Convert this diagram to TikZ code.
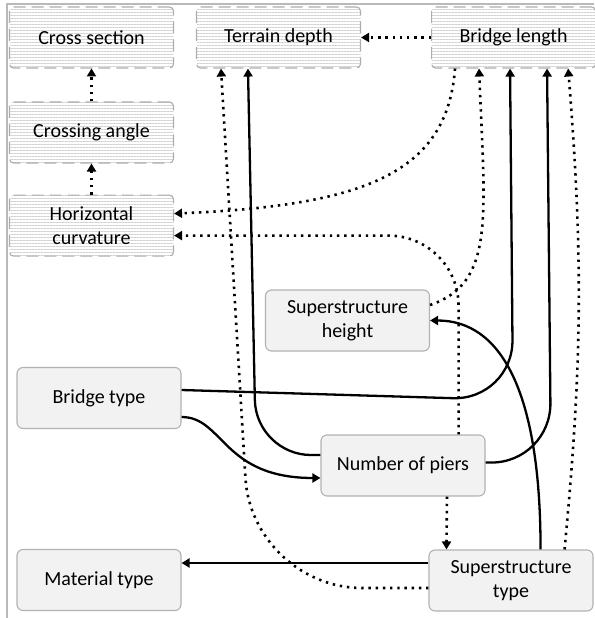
\documentclass[tikz,border=0pt]{standalone}
\usepackage{fontspec}
\setmainfont{Carlito}
\usetikzlibrary{arrows.meta,positioning,patterns.meta}

\begin{document}
\begin{tikzpicture}[%
        x=1pt, y=-1pt,
        every node/.style={rectangle, minimum width=164pt, minimum height=61pt, inner sep=2pt, align=center, font=\fontsize{20}{24}\selectfont},
        dbox/.style={draw=gray!65, line width=1.1pt, dash pattern=on 12pt off 6pt, rounded corners=4pt, pattern={Lines[angle=0,distance=3pt,line width=0.9pt]}, pattern color=gray!35},
        gbox/.style={draw=gray!60, line width=1.1pt, rounded corners=6pt, fill=gray!10},
        link/.style={line width=2.3pt, -{Triangle[length=8pt,width=9pt]}},
        dots/.style={link, line width=2.6pt, dash pattern=on 2.4pt off 4.8pt},
        node distance=30pt
      ]
      \useasboundingbox (0,0) rectangle (594,618);
      \draw[gray!55, line width=1.3pt] (594,4) -- (7,4) -- (7,618);

      % factors
      \node[dbox] (cs) at (91.5,37.5) {Cross section};
      \node[dbox, right=22pt of cs] (td) {Terrain depth};
      \node[dbox, right=70pt of td] (bl) {Bridge length};
      \node[dbox, below=33pt of cs] (ca) {Crossing angle};
      \node[dbox, below=31pt of ca] (hc) {Horizontal\\curvature};
      \node[gbox] (sh) at (347.5,320.5) {Superstructure\\height};
      \node[gbox] (bt) at (99,398) {Bridge type};
      \node[gbox] (np) at (403,465.5) {Number of piers};
      \node[gbox] (mt) at (99,580) {Material type};
      \node[gbox] (st) at (511,580.5) {Superstructure\\type};

      % dotted links
      \draw[dots] (bl) -- (td);
      \draw[dots] (ca) -- (cs);
      \draw[dots] (hc) -- (ca);
      \draw[dots] ([xshift=24pt]bl.south west) .. controls +(-8,105) and +(190,-8) .. ([yshift=12pt]hc.east);
      \draw[dots, rounded corners=70pt] ([xshift=-27pt]np.north east) |- ([yshift=-10pt]hc.east);
      \draw[dots] ([yshift=15.5pt]sh.east) .. controls +(65,-22) and +(6,150) .. ([xshift=48pt]bl.south west);
      \draw[dots] ([xshift=-29pt]st.north east) to[bend right=5] ([xshift=-28pt]bl.south east);
      \draw[dots, rounded corners=110pt] ([yshift=-7.5pt]st.west) -- (252,588) -- ([xshift=25pt]td.south west);
      \draw[dots] ([xshift=44pt]np.south) -- ([xshift=18pt]st.north west);

      % solid links
      \draw[link, rounded corners=60pt] ([yshift=8pt]bt.east) -- (513,400) -- ([xshift=79pt]bl.south west);
      \draw[link, rounded corners=60pt] ([yshift=3pt]np.east) -- (551,463) -- ([xshift=116pt]bl.south west);
      \draw[link, rounded corners=55pt] ([yshift=10.5pt]np.west) -- (256,455) -- ([xshift=52pt]td.south west);
      \draw[link] ([yshift=-19pt]bt.east) .. controls +(42,0) and +(-98,0) .. ([yshift=-12.5pt]np.west);
      \draw[link] ([yshift=17.5pt]st.west) -- ([yshift=17pt]mt.east);
      \draw[link] ([xshift=-53pt]st.north east) .. controls +(0,-160) and +(70,0) .. (sh.east);
    \end{tikzpicture}
\end{document}
